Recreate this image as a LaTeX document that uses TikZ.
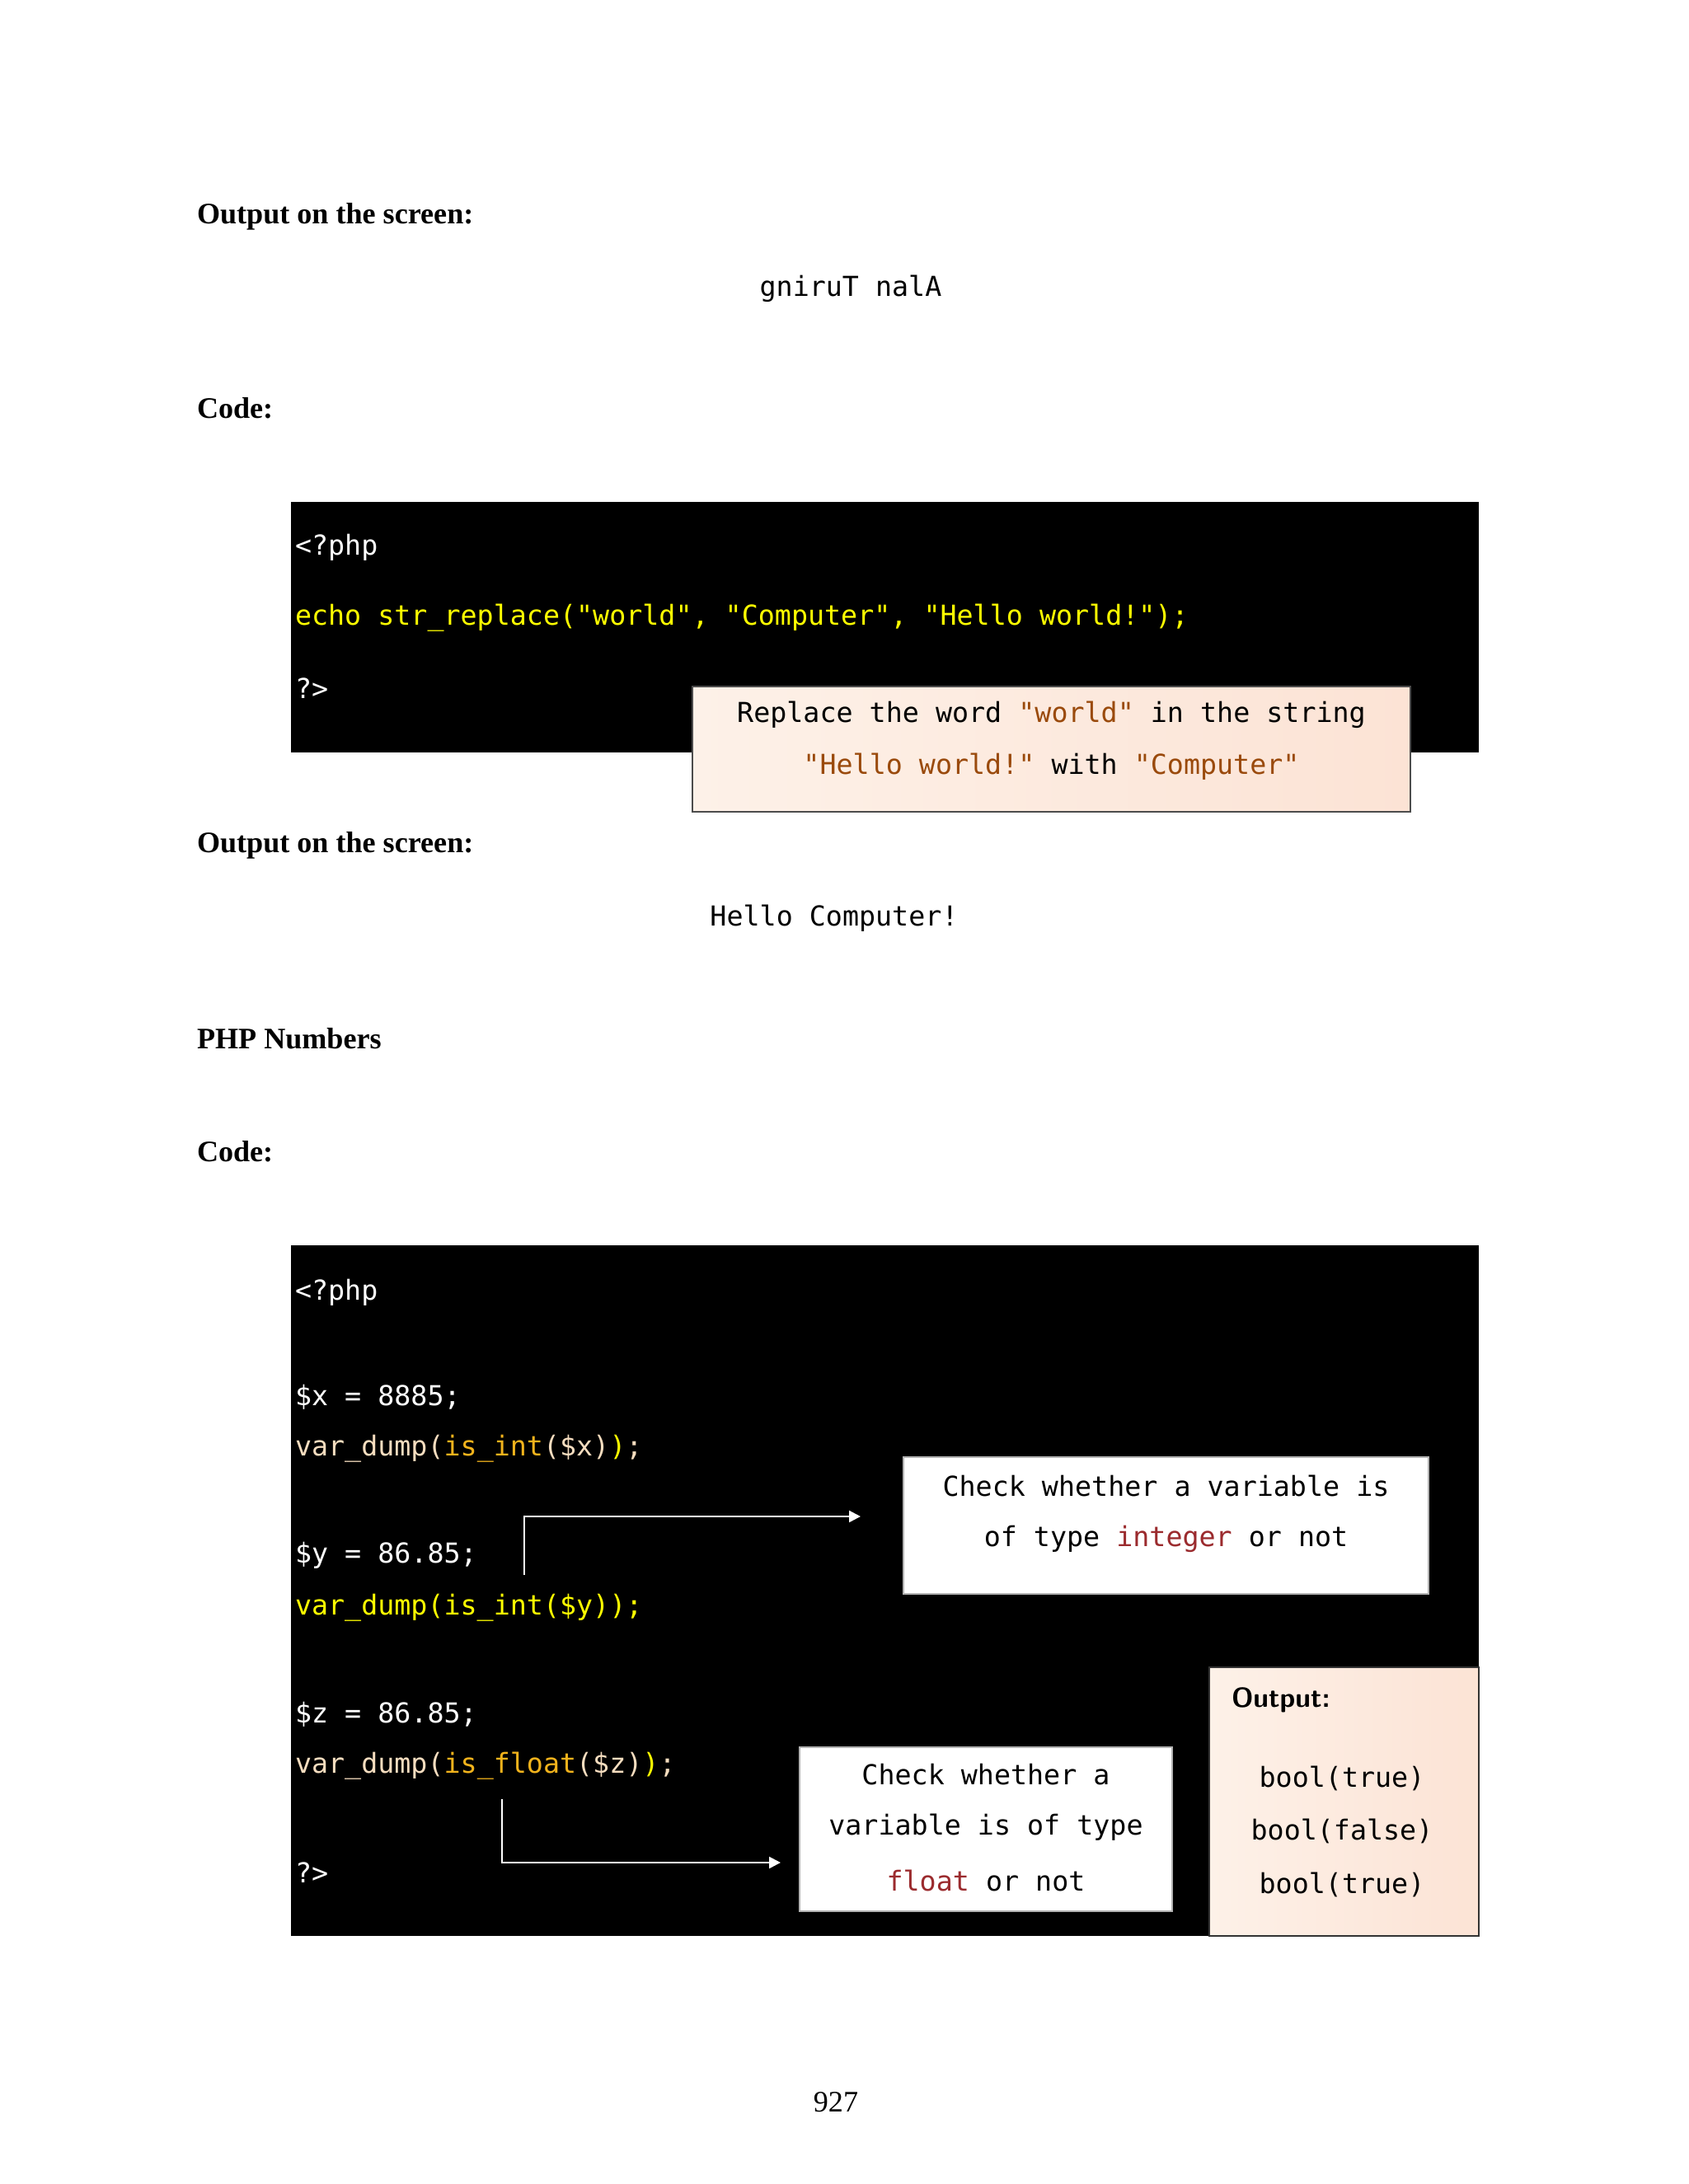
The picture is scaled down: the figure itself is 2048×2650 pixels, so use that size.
\documentclass[tikz,border=0pt]{standalone}
\usepackage{fontspec}
\setmainfont{Liberation Serif}
\setmonofont{DejaVu Sans Mono}
\usetikzlibrary{arrows.meta,positioning}
\definecolor{codeyel}{HTML}{FFFF00}
\definecolor{peachtxt}{HTML}{F6DDBF}
\definecolor{fnorange}{HTML}{F2B31C}
\definecolor{strbrown}{HTML}{9A4A0C}
\definecolor{typered}{HTML}{9B2B2E}
\definecolor{peachA}{HTML}{FDF1E8}
\definecolor{peachB}{HTML}{FCE3D5}
\tikzset{
  heading/.style={anchor=west, font=\fontsize{13}{15}\selectfont\bfseries},
  codeline/.style={anchor=west, text=white, font=\fontsize{12}{14}\ttfamily},
  outline/.style={font=\fontsize{12}{14}\ttfamily},
  codebox/.style={fill=black},
  notebox/.style={draw=black!70, line width=0.5pt, left color=peachA, right color=peachB},
  whitebox/.style={draw=black!30, line width=0.5pt, fill=white},
  pointer/.style={draw=white, line width=0.8pt, -{Triangle[length=5pt,width=5pt]}}
}
\begin{document}
\begin{tikzpicture}[x=0.36pt, y=-0.36pt, inner sep=0pt, outer sep=0pt]
\useasboundingbox[fill=white] (0,0) rectangle (2048,2650);
% first output
\node[heading] (head1) at (239,263) {Output on the screen:};
\node[outline] (out1) at (1032,350) {gniruT nalA};
\node[heading] (head2) at (239,495) {Code:};
% first code block
\path[codebox] (353,609) rectangle (1794,913);
\node[codeline] (php1) at (358,664) {<?php};
\node[codeline, text=codeyel] (echo1) at (358,750) {echo str\_replace("world", "Computer", "Hello world!");};
\node[codeline] (end1) at (358,835) {?>};
\path[notebox] (840,833) rectangle (1711,985);
\node[outline] (note1a) at (1275.5,867) {Replace the word \textcolor{strbrown}{"world"} in the string};
\node[outline] (note1b) at (1275.5,930) {\textcolor{strbrown}{"Hello world!"} with \textcolor{strbrown}{"Computer"}};
% second output
\node[heading] (head3) at (239,1026) {Output on the screen:};
\node[outline] (out2) at (1012,1114) {Hello Computer!};
\node[heading] (head4) at (239,1260) {PHP Numbers};
\node[heading] (head5) at (239,1397) {Code:};
% second code block
\path[codebox] (353,1511) rectangle (1794,2349);
\node[codeline] (php2) at (358,1568) {<?php};
\node[codeline] (setx) at (358,1695) {\$x = 8885;};
\node[codeline, text=peachtxt] (dumpx) at (358,1758) {var\_dump(\textcolor{fnorange}{is\_int}(\$x)\textcolor{codeyel}{)};};
\node[codeline] (sety) at (358,1887) {\$y = 86.85;};
\node[codeline, text=codeyel] (dumpy) at (358,1951) {var\_dump(is\_int(\$y));};
\node[codeline] (setz) at (358,2080) {\$z = 86.85;};
\node[codeline, text=peachtxt] (dumpz) at (358,2143) {var\_dump(\textcolor{fnorange}{is\_float}(\$z)\textcolor{codeyel}{)};};
\node[codeline] (end2) at (358,2272) {?>};
% int note
\path[whitebox] (1096,1768) rectangle (1733,1934);
\node[outline] (noteint1) at (1414.5,1803) {Check whether a variable is};
\node[outline] (noteint2) at (1414.5,1867) {of type \textcolor{typered}{integer} or not};
\coordinate (intstart) at (636,1911);
\coordinate (intbend) at (636,1840);
\coordinate (intend) at (1044,1840);
\draw[pointer] (intstart) -- (intbend) -- (intend);
% float note
\path[whitebox] (970,2120) rectangle (1422,2319);
\node[outline] (notefl1) at (1196,2153) {Check whether a};
\node[outline] (notefl2) at (1196,2217) {variable is of type};
\node[outline] (notefl3) at (1196,2282) {\textcolor{typered}{float} or not};
\coordinate (flstart) at (609,2183);
\coordinate (flbend) at (609,2260);
\coordinate (flend) at (947,2260);
\draw[pointer] (flstart) -- (flbend) -- (flend);
% output box
\path[notebox, draw=black!80] (1467,2023) rectangle (1794,2349);
\node[anchor=west, font=\fontsize{12}{14}\sffamily\bfseries] (outhead) at (1494,2063) {Output:};
\node[outline] (bool1) at (1628,2158) {bool(true)};
\node[outline] (bool2) at (1628,2222) {bool(false)};
\node[outline] (bool3) at (1628,2287) {bool(true)};
% page number
\node[font=\fontsize{13}{15}\selectfont] (pagenum) at (1014,2551) {927};
\end{tikzpicture}
\end{document}
